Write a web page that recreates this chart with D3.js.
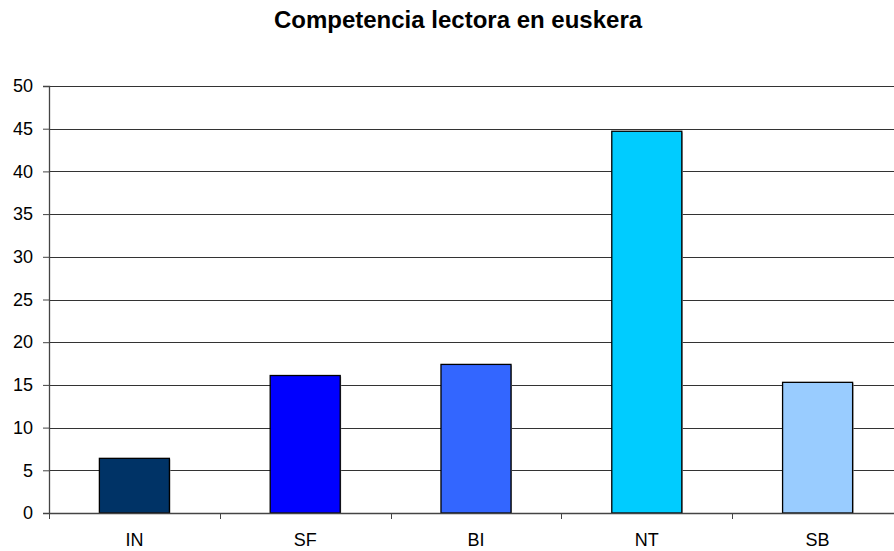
<!DOCTYPE html>
<html>
<head>
<meta charset="utf-8">
<script src="https://cdn.jsdelivr.net/npm/d3@7"></script>
<style>
  body { margin: 0; background: #fff; }
  text { font-family: Arial, "Liberation Sans", sans-serif; fill: #000; }
</style>
</head>
<body>
<div></div>
<script>
// data
var categories = ["IN", "SF", "BI", "NT", "SB"];
var values = [6.4, 16.1, 17.4, 44.7, 15.3];
var colors = ["#003366", "#0000ff", "#3366ff", "#00ccff", "#99ccff"];
var yTicks = [0, 5, 10, 15, 20, 25, 30, 35, 40, 45, 50];

// set the dimensions and margins of the graph
var W = 894, H = 551;
var margin = {top: 86, right: -9, bottom: 38, left: 49},
    width = W - margin.left - margin.right,
    height = H - margin.top - margin.bottom;

var x = d3.scaleBand().domain(categories).range([0, width])
    .paddingInner(0.59).paddingOuter(0.295);
var y = d3.scaleLinear().domain([0, 50]).range([height, 0]);

var svg = d3.select("div").append("svg")
    .attr("width", W)
    .attr("height", H);

svg.append("text")
    .attr("x", 458)
    .attr("y", 28)
    .attr("text-anchor", "middle")
    .style("font-size", "24px")
    .style("font-weight", "bold")
    .text("Competencia lectora en euskera");

var g = svg.append("g")
    .attr("transform", "translate(" + margin.left + "," + margin.top + ")");

// gridlines
g.selectAll(".grid")
    .data(yTicks.filter(function(d) { return d > 0; }))
    .enter().append("line")
    .attr("x1", 0).attr("x2", width)
    .attr("y1", function(d) { return Math.round(y(d)) + 0.5; })
    .attr("y2", function(d) { return Math.round(y(d)) + 0.5; })
    .attr("stroke", "#333")
    .attr("stroke-width", 1);

// bars (with a faint shadow)
g.selectAll(".shadow")
    .data(values)
    .enter().append("rect")
    .attr("x", function(d, i) { return x(categories[i]) + 1; })
    .attr("y", function(d) { return y(d) + 1; })
    .attr("width", x.bandwidth())
    .attr("height", function(d) { return height - y(d); })
    .attr("fill", "#aaa");

g.selectAll(".bar")
    .data(values)
    .enter().append("rect")
    .attr("x", function(d, i) { return x(categories[i]); })
    .attr("y", function(d) { return y(d); })
    .attr("width", x.bandwidth())
    .attr("height", function(d) { return height - y(d); })
    .attr("fill", function(d, i) { return colors[i]; })
    .attr("stroke", "#000")
    .attr("stroke-width", 1.3);

// Y axis
var yAxis = g.append("g")
    .call(d3.axisLeft(y).tickValues(yTicks).tickSize(6).tickPadding(10));
yAxis.selectAll("text").style("font-size", "18px");
yAxis.select(".domain").attr("stroke", "#444").attr("stroke-width", 1.3);
yAxis.selectAll(".tick line").attr("stroke", "#444");

// X axis
var xAxis = g.append("g")
    .attr("transform", "translate(0," + height + ")")
    .call(d3.axisBottom(x).tickSize(0).tickPadding(20));
xAxis.selectAll("text").style("font-size", "18px");
xAxis.select(".domain").attr("stroke", "#444").attr("stroke-width", 1.3);

// category separator ticks
var step = x.step();
g.selectAll(".ctick")
    .data(d3.range(categories.length + 1))
    .enter().append("line")
    .attr("x1", function(i) { return Math.round(i * step) + 0.5; })
    .attr("x2", function(i) { return Math.round(i * step) + 0.5; })
    .attr("y1", height).attr("y2", height + 6)
    .attr("stroke", "#444");
</script>
</body>
</html>
